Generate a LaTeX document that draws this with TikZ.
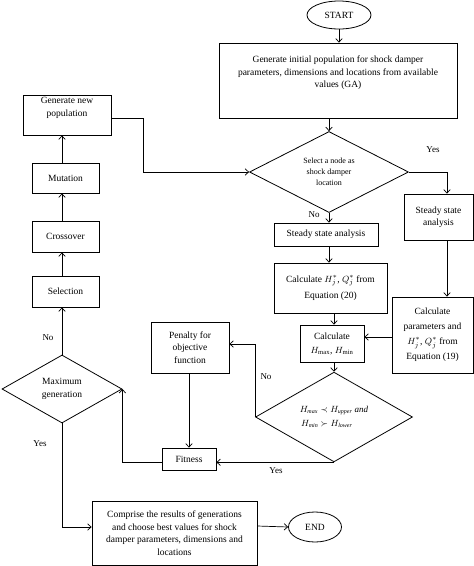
\documentclass[tikz,border=0pt]{standalone}
\usepackage{fontspec}
\setmainfont{Liberation Serif}
\usetikzlibrary{shapes.geometric,arrows.meta}
\begin{document}
\begin{tikzpicture}[x=1pt,y=-1pt,
  box/.style={draw, line width=0.8pt, inner sep=1pt, align=center, font=\fontsize{9.5}{12.5}\selectfont},
  term/.style={draw, ellipse, line width=0.8pt, inner sep=0pt, font=\fontsize{9.5}{12}\selectfont},
  dia/.style={draw, diamond, line width=0.8pt, inner sep=0pt, align=center},
  arr/.style={-{Straight Barb[length=3.5pt,width=6.5pt]}, line width=0.7pt},
  ln/.style={line width=0.7pt},
  lab/.style={font=\fontsize{9}{11}\selectfont, inner sep=0pt}]
\fill[white] (0,0) rectangle (474,566);
\useasboundingbox (0,0) rectangle (474,566);

\node[term, minimum width=64pt, minimum height=28pt] (start) at (339,15) {START};
\node[box, minimum width=238pt, minimum height=75pt] (init) at (338,80.5)
  {Generate initial population for shock damper\\parameters, dimensions and locations from available\\values (GA)\\[5pt]};
\node[dia, minimum width=159pt, minimum height=81pt, font=\fontsize{8}{11}\selectfont] (sel) at (329,172)
  {Select a node as\\shock damper\\location};
\node[box, minimum width=69pt, minimum height=46pt] (ssR) at (438.5,217) {Steady state\\analysis};
\node[box, minimum width=104pt, minimum height=23pt] (ssC) at (326,234.5) {Steady state analysis};
\node[box, minimum width=113pt, minimum height=50pt, font=\fontsize{9.5}{16}\selectfont] (calcH) at (330.5,288)
  {Calculate $H_j^{*}$, $Q_j^{*}$ from\\Equation (20)};
\node[box, minimum width=64pt, minimum height=37pt, font=\fontsize{9.5}{14}\selectfont] (hmax) at (332,343.5)
  {Calculate\\$H_{\mathrm{max}}$, $H_{\mathrm{min}}$};
\node[box, minimum width=81pt, minimum height=76pt, font=\fontsize{9.5}{15}\selectfont] (calcP) at (432.5,335)
  {Calculate\\parameters and\\$H_j^{*}$, $Q_j^{*}$ from\\Equation (19)};
\node[dia, minimum width=157pt, minimum height=84pt, font=\fontsize{9}{14}\selectfont\itshape] (cond) at (334,417)
  {$H_{\mathit{max}}\prec H_{\mathit{upper}}$ and\\$H_{\mathit{min}}\succ H_{\mathit{lower}}$\hspace*{1.6em}};
\node[box, minimum width=78pt, minimum height=51pt] (pen) at (190,347.5) {Penalty for\\objective\\function};
\node[box, minimum width=54pt, minimum height=22pt] (fit) at (189,459) {Fitness};
\node[dia, minimum width=120pt, minimum height=68pt, font=\fontsize{9.5}{13}\selectfont] (maxg) at (62,389)
  {Maximum\\generation};
\node[box, minimum width=67pt, minimum height=31pt] (selc) at (65.5,291.5) {Selection};
\node[box, minimum width=67pt, minimum height=31pt] (cross) at (65.5,236.5) {Crossover};
\node[box, minimum width=67pt, minimum height=30pt] (mut) at (65.5,178) {Mutation};
\node[box, minimum width=88pt, minimum height=40pt] (gen) at (67,115) {Generate new\\population\\[4pt]};
\node[box, minimum width=165pt, minimum height=64pt] (comp) at (174.5,533)
  {Comprise the results of generations\\and choose best values for shock\\damper parameters, dimensions and\\locations};
\node[term, minimum width=53pt, minimum height=30pt] (end) at (315,527) {END};

% connectors
\draw[arr] (start.south) -- (start.south |- init.north);
\draw[arr] (sel.north |- init.south) -- (sel.north);
\draw[arr] (sel.east) -| ([xshift=8.5pt]ssR.north);
\draw[arr] (sel.south) -- (sel.south |- ssC.north);
\draw[arr] (sel.south |- ssC.south) -- (sel.south |- calcH.north);
\draw[arr] (cond.north |- calcH.south) -- (cond.north |- hmax.north);
\draw[arr] ([xshift=8.5pt]ssR.south) -- ([xshift=8.5pt]ssR.south |- calcP.north);
\draw[arr] ([yshift=6.5pt]calcP.west |- hmax.east) -- ([yshift=6.5pt]hmax.east);
\draw[arr] (cond.north |- hmax.south) -- (cond.north);
\draw[arr] (cond.west) |- ([yshift=3.5pt]pen.east);
\draw[arr] (fit.north |- pen.south) -- (fit.north);
\draw[arr] (cond.south) -- (cond.south -| fit.east);
\draw[arr] ([yshift=-3pt]fit.west) -| (maxg.east);
\draw[arr] (maxg.north) -- (maxg.north |- selc.south);
\draw[arr] (maxg.north |- selc.north) -- (maxg.north |- cross.south);
\draw[arr] (maxg.north |- cross.north) -- (maxg.north |- mut.south);
\draw[arr] (maxg.north |- mut.north) -- (maxg.north |- gen.south);
\draw[arr] ([yshift=-3pt]gen.east) -- ++(32,0) coordinate (g1) |- (sel.west);
\draw[arr] (maxg.south) |- ([yshift=6pt]comp.west);
\draw[arr] ([yshift=7pt]comp.east) -- (end.west);

% labels
\node[lab] (y1) at (433,150) {Yes};
\node[lab] (n1) at (314,215) {No};
\node[lab] (n2) at (266,377) {No};
\node[lab] (y2) at (276,471) {Yes};
\node[lab] (n3) at (48,338) {No};
\node[lab] (y3) at (40,444) {Yes};
\end{tikzpicture}
\end{document}
